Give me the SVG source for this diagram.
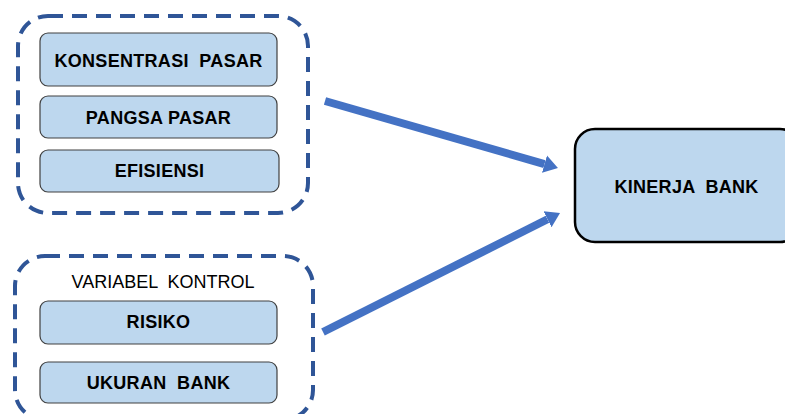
<svg xmlns="http://www.w3.org/2000/svg" width="785" height="414" viewBox="0 0 785 414" xml:space="preserve">
<defs>
<style>
.group{fill:none;stroke:#2f5597;stroke-width:4;stroke-dasharray:15 9;}
.box{fill:#bdd7ee;stroke:#404040;stroke-width:1.2;}
.lbl{font-family:"Liberation Sans",Arial,sans-serif;font-weight:bold;font-size:18px;letter-spacing:0.3px;fill:#000;text-anchor:middle;white-space:pre;}
.cap{font-family:"Liberation Sans",Arial,sans-serif;font-size:18px;fill:#000;text-anchor:middle;white-space:pre;}
.arrow{stroke:#4472c4;stroke-width:8;fill:none;marker-end:url(#head);}
</style>
<marker id="head" markerUnits="userSpaceOnUse" viewBox="0 -10 15 20" refX="0" refY="0" markerWidth="15" markerHeight="20" orient="auto">
<path d="M0,-9 L14,0 L0,9 z" fill="#4472c4"/>
</marker>
</defs>
<rect width="785" height="414" fill="#fff"/>
<g id="group-main">
<rect class="group" x="18" y="16" width="290" height="197" rx="30"/>
</g>
<g id="group-control">
<rect class="group" x="15" y="256" width="298" height="164" rx="30"/>
<text class="cap" x="163" y="288">VARIABEL  KONTROL</text>
</g>
<g id="konsentrasi">
<rect class="box" x="40" y="33" width="237" height="53" rx="8"/>
<text class="lbl" x="158.5" y="67">KONSENTRASI  PASAR</text>
</g>
<g id="pangsa">
<rect class="box" x="40" y="96" width="237" height="42" rx="8"/>
<text class="lbl" x="158.5" y="124">PANGSA PASAR</text>
</g>
<g id="efisiensi">
<rect class="box" x="40" y="150" width="239" height="42" rx="8"/>
<text class="lbl" x="159.5" y="177">EFISIENSI</text>
</g>
<g id="risiko">
<rect class="box" x="40" y="301" width="237" height="43" rx="8"/>
<text class="lbl" x="158.5" y="328">RISIKO</text>
</g>
<g id="ukuran">
<rect class="box" x="40" y="362" width="237" height="41" rx="8"/>
<text class="lbl" x="158.5" y="389">UKURAN  BANK</text>
</g>
<g id="kinerja">
<rect x="575" y="129" width="225" height="113" rx="20" fill="#bdd7ee" stroke="#000" stroke-width="2.5"/>
<text class="lbl" x="686.5" y="192.5">KINERJA  BANK</text>
</g>
<g id="connectors">
<line class="arrow" x1="325" y1="101" x2="544.5" y2="164.1"/>
<line class="arrow" x1="323" y1="332" x2="547.5" y2="219.3"/>
</g>
</svg>
